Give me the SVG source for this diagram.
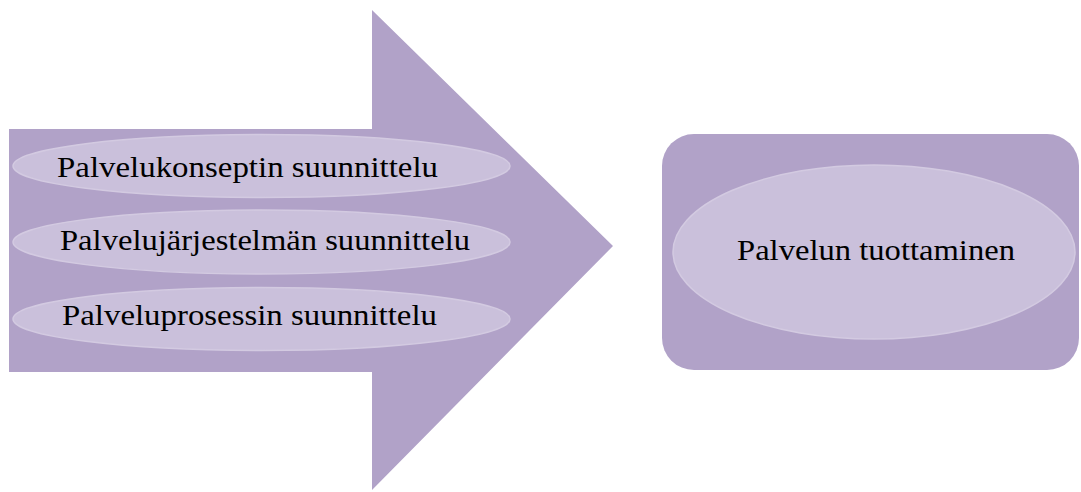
<svg xmlns="http://www.w3.org/2000/svg" width="1081" height="492" viewBox="0 0 1081 492">
<style>
.dark{fill:#B1A2C8}
.light{fill:#CAC0DB;stroke:#D3CAE1;stroke-width:1.5}
.t{font-family:"Liberation Serif","DejaVu Serif",serif;font-size:29px;fill:#000}
</style>
<rect width="1081" height="492" fill="#fff"/>
<g id="arrow">
<path class="dark" d="M9,129 H372 V10 L613,246 L372,490 V372 H9 Z"/>
</g>
<g id="node1">
<ellipse class="light" cx="261.5" cy="166" rx="248.5" ry="31.5"/>
<text class="t" x="57" y="177" textLength="381" lengthAdjust="spacingAndGlyphs">Palvelukonseptin suunnittelu</text>
</g>
<g id="node2">
<ellipse class="light" cx="261.5" cy="242" rx="248.5" ry="32"/>
<text class="t" x="60" y="250" textLength="410" lengthAdjust="spacingAndGlyphs">Palvelujärjestelmän suunnittelu</text>
</g>
<g id="node3">
<ellipse class="light" cx="261.5" cy="319" rx="248.5" ry="31.5"/>
<text class="t" x="62" y="325" textLength="375" lengthAdjust="spacingAndGlyphs">Palveluprosessin suunnittelu</text>
</g>
<g id="node4">
<rect class="dark" x="662" y="134" width="417" height="236" rx="32" ry="32"/>
<ellipse class="light" cx="874" cy="252" rx="201" ry="87"/>
<text class="t" x="737" y="260" textLength="278" lengthAdjust="spacingAndGlyphs">Palvelun tuottaminen</text>
</g>
<g id="connectors"/>
</svg>
